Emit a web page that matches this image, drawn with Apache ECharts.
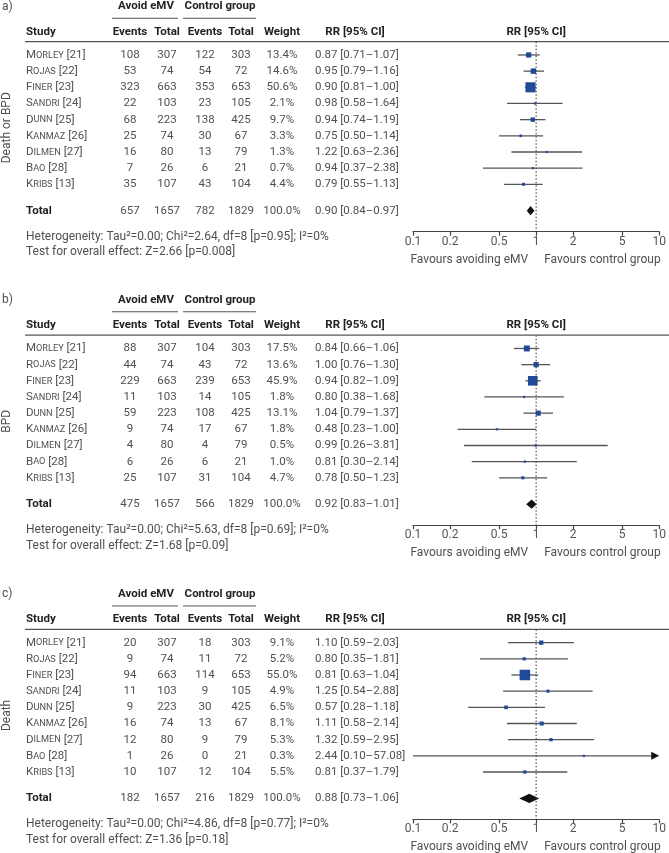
<!DOCTYPE html>
<html><head><meta charset="utf-8">
<script src="https://cdn.jsdelivr.net/npm/echarts@6/dist/echarts.min.js"></script>
<style>html,body{margin:0;padding:0;background:#fff}#c{width:669px;height:853px}</style>
</head><body><div id="c"></div><script>
// ---------- data ----------
const studyNames = ['Morley','Rojas','Finer','Sandri','Dunn','Kanmaz','Dilmen','Bao','Kribs'];
const studyRefs = [21,22,23,24,25,26,27,28,13];
const avoidTotal = [307,74,663,103,223,74,80,26,107];
const controlTotal = [303,72,653,105,425,67,79,21,104];

// a) Death or BPD
const aAvoidEvents = [108,53,323,22,68,25,16,7,35];
const aControlEvents = [122,54,353,23,138,30,13,6,43];
const aWeight = [13.4,14.6,50.6,2.1,9.7,3.3,1.3,0.7,4.4];
const aRR = [0.87,0.95,0.90,0.98,0.94,0.75,1.22,0.94,0.79];
const aLo = [0.71,0.79,0.81,0.58,0.74,0.50,0.63,0.37,0.55];
const aHi = [1.07,1.16,1.00,1.64,1.19,1.14,2.36,2.38,1.13];
const aTotal = [657,1657,782,1829,100.0,0.90,0.84,0.97];
const aHet = 'Heterogeneity: Tau²=0.00; Chi²=2.64, df=8 [p=0.95]; I²=0%';
const aTest = 'Test for overall effect: Z=2.66 [p=0.008]';

// b) BPD
const bAvoidEvents = [88,44,229,11,59,9,4,6,25];
const bControlEvents = [104,43,239,14,108,17,4,6,31];
const bWeight = [17.5,13.6,45.9,1.8,13.1,1.8,0.5,1.0,4.7];
const bRR = [0.84,1.00,0.94,0.80,1.04,0.48,0.99,0.81,0.78];
const bLo = [0.66,0.76,0.82,0.38,0.79,0.23,0.26,0.30,0.50];
const bHi = [1.06,1.30,1.09,1.68,1.37,1.00,3.81,2.14,1.23];
const bTotal = [475,1657,566,1829,100.0,0.92,0.83,1.01];
const bHet = 'Heterogeneity: Tau²=0.00; Chi²=5.63, df=8 [p=0.69]; I²=0%';
const bTest = 'Test for overall effect: Z=1.68 [p=0.09]';

// c) Death
const cAvoidEvents = [20,9,94,11,9,16,12,1,10];
const cControlEvents = [18,11,114,9,30,13,9,0,12];
const cWeight = [9.1,5.2,55.0,4.9,6.5,8.1,5.3,0.3,5.5];
const cRR = [1.10,0.80,0.81,1.25,0.57,1.11,1.32,2.44,0.81];
const cLo = [0.59,0.35,0.63,0.54,0.28,0.58,0.59,0.10,0.37];
const cHi = [2.03,1.81,1.04,2.88,1.18,2.14,2.95,57.08,1.79];
const cTotal = [182,1657,216,1829,100.0,0.88,0.73,1.06];
const cHet = 'Heterogeneity: Tau²=0.00; Chi²=4.86, df=8 [p=0.77]; I²=0%';
const cTest = 'Test for overall effect: Z=1.36 [p=0.18]';

const xTicks = [0.1,0.2,0.5,1,2,5,10];
const panelTags = ['a)','b)','c)'];
const outcomes = ['Death or BPD','BPD','Death'];

// ---------- layout ----------
const FONT = 'Roboto, "Noto Sans", sans-serif';
const TXT = '#505050', HDR = '#222', LINE = '#555';
const FS = 11.5;
const gridTops = [41.7, 335.2, 629.4];
const GRID_H = 190;
const Y_MIN = -0.82, Y_MAX = 10.93;
const ROW_TOTAL = 9.63, ROW_HET = 11.24, ROW_TEST = 12.19, ROW_HDR = -1.44, ROW_GRP = -2.99, ROW_UL = -2.27;
const COL = {name:26, e1:130, t1:167, e2:205, t2:241, w:282, rr:315};

const panels = [
  {e1:aAvoidEvents, e2:aControlEvents, w:aWeight, rr:aRR, lo:aLo, hi:aHi, tot:aTotal, het:aHet, test:aTest},
  {e1:bAvoidEvents, e2:bControlEvents, w:bWeight, rr:bRR, lo:bLo, hi:bHi, tot:bTotal, het:bHet, test:bTest},
  {e1:cAvoidEvents, e2:cControlEvents, w:cWeight, rr:cRR, lo:cLo, hi:cHi, tot:cTotal, het:cHet, test:cTest}
];

function txt(x, y, text, opt) {
  return {type:'text', style:Object.assign({x:x, y:y, text:text, fill:TXT, fontSize:FS, fontFamily:FONT,
    align:'center', verticalAlign:'middle'}, opt || {})};
}
function ciText(r, l, h) { return r.toFixed(2) + ' [' + l.toFixed(2) + '–' + h.toFixed(2) + ']'; }
function smallCaps(name, ref) {
  return '{cap|' + name[0] + '}{sc|' + name.slice(1).toUpperCase() + '}{cap| [' + ref + ']}';
}
const richSC = {
  cap:{fontSize:FS, fontFamily:FONT, fill:TXT, verticalAlign:'bottom'},
  sc:{fontSize:FS*0.8, fontFamily:FONT, fill:TXT, verticalAlign:'bottom', padding:[0,0,1,0]}
};

const grids = [], xAxes = [], yAxes = [], series = [];
panels.forEach(function(P, k) {
  grids.push({left:413, width:248, top:gridTops[k], height:GRID_H});
  xAxes.push({gridIndex:k, type:'log', logBase:10, min:0.1, max:10, position:'bottom',
    axisLine:{onZero:false, lineStyle:{color:'#444', width:1.2}},
    axisTick:{show:true, length:4, customValues:xTicks, lineStyle:{color:'#444', width:1.2}},
    axisLabel:{customValues:xTicks, margin:4, color:'#555', fontSize:12, fontFamily:FONT,
      formatter:function(v){ return String(+v.toPrecision(3)); }},
    splitLine:{show:false}});
  yAxes.push({gridIndex:k, type:'value', inverse:true, min:Y_MIN, max:Y_MAX, show:false});

  // study rows: table text
  series.push({type:'custom', xAxisIndex:k, yAxisIndex:k, clip:false, silent:true,
    data: studyNames.map(function(n, i){ return [1, i]; }),
    renderItem: function(params, api) {
      const i = params.dataIndex;
      const y = api.coord([1, api.value(1)])[1];
      return {type:'group', children:[
        txt(COL.name, y, smallCaps(studyNames[i], studyRefs[i]), {align:'left', rich:richSC}),
        txt(COL.e1, y, String(P.e1[i])),
        txt(COL.t1, y, String(avoidTotal[i])),
        txt(COL.e2, y, String(P.e2[i])),
        txt(COL.t2, y, String(controlTotal[i])),
        txt(COL.w, y, P.w[i].toFixed(1) + '%'),
        txt(COL.rr, y, ciText(P.rr[i], P.lo[i], P.hi[i]), {align:'left'})
      ]};
    }});

  // forest marks
  series.push({type:'custom', xAxisIndex:k, yAxisIndex:k, clip:false, silent:true,
    data: P.rr.map(function(r, i){ return [r, i, P.lo[i], P.hi[i], P.w[i]]; }),
    renderItem: function(params, api) {
      const yv = api.value(1);
      const c = api.coord([api.value(0), yv]);
      const lo = api.value(2), hi = api.value(3);
      const xl = api.coord([Math.max(lo, 0.1), yv])[0];
      const xh = api.coord([Math.min(hi, 10), yv])[0];
      const s = Math.max(2.2, 1.42 * Math.sqrt(api.value(4)));
      const ch = [];
      const arrow = hi > 10;
      ch.push({type:'line', shape:{x1:xl, y1:c[1], x2:arrow ? xh - 7 : xh, y2:c[1]},
        style:{stroke:LINE, lineWidth:1.3}});
      if (arrow) {
        ch.push({type:'polygon', shape:{points:[[xh, c[1]], [xh - 8, c[1] - 4], [xh - 8, c[1] + 4]]},
          style:{fill:'#111'}});
      }
      ch.push({type:'rect', shape:{x:c[0] - s/2, y:c[1] - s/2, width:s, height:s}, style:{fill:'#1f4a9a'}});
      return {type:'group', children:ch};
    }});

  // total row + diamond
  series.push({type:'custom', xAxisIndex:k, yAxisIndex:k, clip:false, silent:true,
    data: [[P.tot[5], ROW_TOTAL, P.tot[6], P.tot[7]]],
    renderItem: function(params, api) {
      const yv = api.value(1);
      const c = api.coord([api.value(0), yv]);
      const xl = api.coord([api.value(2), yv])[0];
      const xh = api.coord([api.value(3), yv])[0];
      const y = c[1], T = P.tot;
      return {type:'group', children:[
        {type:'polygon', shape:{points:[[xl, y], [c[0], y - 4.6], [xh, y], [c[0], y + 4.6]]}, style:{fill:'#111'}},
        txt(COL.name, y, 'Total', {align:'left', fontWeight:'bold', fill:HDR}),
        txt(COL.e1, y, String(T[0])),
        txt(COL.t1, y, String(T[1])),
        txt(COL.e2, y, String(T[2])),
        txt(COL.t2, y, String(T[3])),
        txt(COL.w, y, T[4].toFixed(1) + '%'),
        txt(COL.rr, y, ciText(T[5], T[6], T[7]), {align:'left'})
      ]};
    }});

  // frame: headers, rules, footers, labels
  series.push({type:'custom', xAxisIndex:k, yAxisIndex:k, clip:false, silent:true,
    data: [[1, 0]],
    renderItem: function(params, api) {
      function yOf(r){ return api.coord([1, r])[1]; }
      const x1 = api.coord([1, 0])[0];
      const yG = yOf(ROW_GRP), yH = yOf(ROW_HDR), yU = yOf(ROW_UL);
      const yTop = yOf(Y_MIN), yAx = yOf(Y_MAX);
      const bold = {fontWeight:'bold', fill:HDR};
      return {type:'group', children:[
        txt(2, yG, panelTags[k], {align:'left', fontSize:12}),
        txt(146, yG, 'Avoid eMV', bold),
        txt(220, yG, 'Control group', bold),
        {type:'line', shape:{x1:112, y1:yU, x2:178, y2:yU}, style:{stroke:LINE, lineWidth:1}},
        {type:'line', shape:{x1:183, y1:yU, x2:256, y2:yU}, style:{stroke:LINE, lineWidth:1}},
        txt(COL.name, yH, 'Study', Object.assign({align:'left'}, bold)),
        txt(COL.e1, yH, 'Events', bold),
        txt(COL.t1, yH, 'Total', bold),
        txt(COL.e2, yH, 'Events', bold),
        txt(COL.t2, yH, 'Total', bold),
        txt(COL.w, yH, 'Weight', bold),
        txt(355, yH, 'RR [95% CI]', bold),
        txt(x1, yH, 'RR [95% CI]', bold),
        {type:'line', shape:{x1:25, y1:yTop, x2:669, y2:yTop}, style:{stroke:LINE, lineWidth:1.3}},
        {type:'line', shape:{x1:x1, y1:yTop, x2:x1, y2:yAx}, style:{stroke:'#444', lineWidth:1.1, lineDash:[1.5, 2]}},
        txt(COL.name, yOf(ROW_HET), P.het, {align:'left', fontSize:12}),
        txt(COL.name, yOf(ROW_TEST), P.test, {align:'left', fontSize:12}),
        txt(x1 - 8, yAx + 28, 'Favours avoiding eMV', {align:'right', fontSize:12}),
        txt(x1 + 8, yAx + 28, 'Favours control group', {align:'left', fontSize:12}),
        {type:'text', x:7, y:yOf(4.5), rotation:Math.PI/2,
          style:{text:outcomes[k], fill:TXT, fontSize:12, fontFamily:FONT, align:'center', verticalAlign:'middle'}}
      ]};
    }});
});

const chart = echarts.init(document.getElementById('c'), null, {renderer:'canvas'});
chart.setOption({animation:false, backgroundColor:'#fff', grid:grids, xAxis:xAxes, yAxis:yAxes, series:series});
</script></body></html>
